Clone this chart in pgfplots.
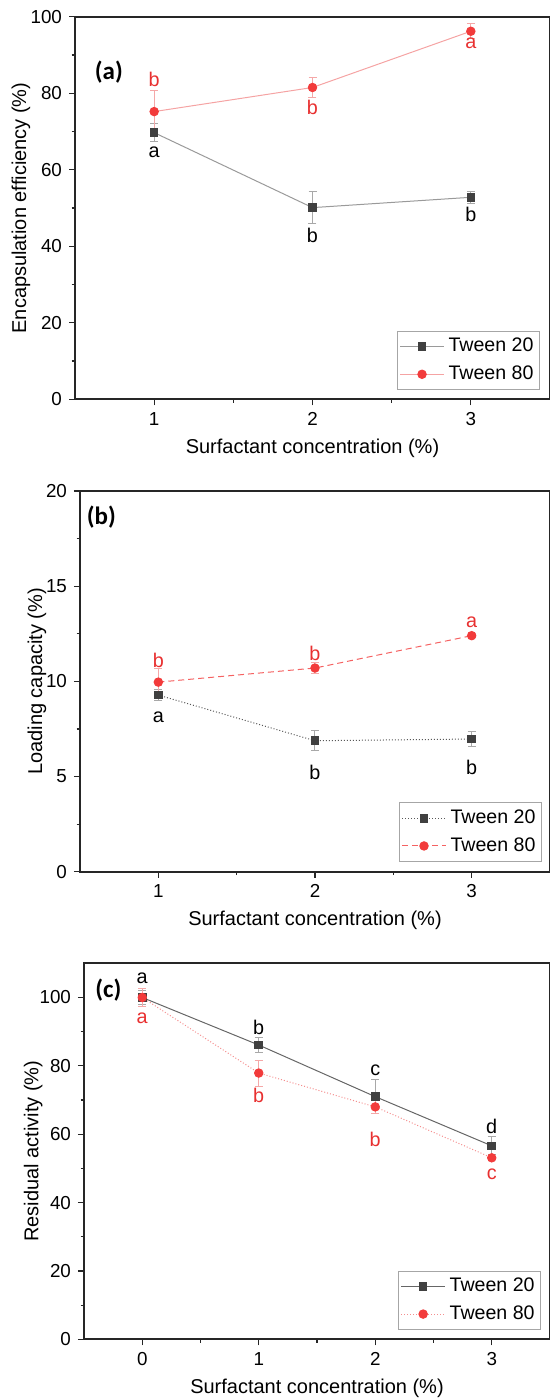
\documentclass[border=0pt]{standalone}
\usepackage{pgfplots}
\pgfplotsset{compat=1.18}
\usepackage{fontspec}
\setmainfont{Liberation Sans}
\newfontfamily\calibri{Carlito}

\definecolor{tmark}{HTML}{404040}
\definecolor{tline}{HTML}{9A9A9A}
\definecolor{terr}{HTML}{A8A8A8}
\definecolor{rmark}{HTML}{F23B3B}
\definecolor{rline}{HTML}{F5A3A3}
\definecolor{rerr}{HTML}{F5A8A8}
\definecolor{rtext}{HTML}{E83030}

\pgfplotsset{
  panel/.style={
    scale only axis, anchor=south west,
    axis line style={line width=0.85pt, black!85},
    tick align=outside, xtick pos=left, ytick pos=left,
    major tick length=3pt, minor tick length=1.7pt,
    every tick/.style={line width=0.6pt, black!85},
    minor tick num=1,
    tick label style={font=\fontsize{9.4}{11}\selectfont},
    /pgf/number format/assume math mode=true,
    label style={font=\fontsize{9.9}{12}\selectfont},
    every axis x label/.style={at={(axis description cs:0.5,0)}, anchor=center, yshift=-24.5pt},
    legend style={font=\fontsize{9.8}{12}\selectfont, anchor=south east, draw=black!35,
      line width=0.5pt, inner xsep=1pt, inner ysep=1.5pt, cells={anchor=west}, row sep=1.5pt},
    legend image code/.code={\draw[mark repeat=2,mark phase=2,#1] plot coordinates {(0pt,0pt) (11pt,0pt) (22pt,0pt)};},
    xlabel={Surfactant concentration (\%)},
  },
  sq/.style={mark=square*, mark options={solid, fill=tmark, draw=tmark, mark size=1.9pt}},
  ci/.style={mark=*, mark options={solid, fill=rmark, draw=rmark, mark size=2.1pt}},
  ebt/.style={error bars/.cd, y dir=both, y explicit,
    error bar style={terr, line width=0.5pt, solid},
    error mark options={rotate=90, terr, mark size=2pt, line width=0.5pt, solid}},
  ebr/.style={error bars/.cd, y dir=both, y explicit,
    error bar style={rerr, line width=0.5pt, solid},
    error mark options={rotate=90, rerr, mark size=2pt, line width=0.5pt, solid}},
}

\begin{document}
\begin{tikzpicture}
\useasboundingbox (0,0) rectangle (275pt,-699pt);

% (a) encapsulation efficiency
\begin{axis}[panel, at={(37.5pt,-199.65pt)}, width=237.5pt, height=191.3pt,
  xmin=0.5, xmax=3.5, ymin=0, ymax=100,
  xtick={1,2,3}, ytick={0,20,...,100},
  ylabel={Encapsulation efficiency (\%)},
  every axis y label/.style={at={(axis description cs:-0.114,0.5)}, rotate=90, anchor=center},
  legend style={at={(axis description cs:0.979,0.024)}}]
\addplot[tline, line width=0.5pt, sq, ebt] coordinates {
  (1,69.7) +- (0,2.4)
  (2,50.1) +- (0,4.2)
  (3,52.8) +- (0,1.5)
};
\addplot[rline, line width=0.5pt, ci, ebr] coordinates {
  (1,75.2) +- (0,5.6)
  (2,81.5) +- (0,2.5)
  (3,96.2) +- (0,2.0)
};
\legend{Tween 20, Tween 80}
\node[font=\calibri\bfseries\fontsize{12.5}{14}\selectfont] at (axis cs:0.714,85.6) {(a)};
\begin{scope}[font=\fontsize{9.9}{12}\selectfont]
\node[rtext] at (axis cs:1,83.5) {b};
\node[rtext] at (axis cs:2,76.3) {b};
\node[rtext] at (axis cs:3,93.0) {a};
\node at (axis cs:1,64.5) {a};
\node at (axis cs:2,42.9) {b};
\node at (axis cs:3,48.3) {b};
\end{scope}
\end{axis}

% (b) loading capacity
\begin{axis}[panel, at={(40pt,-435.85pt)}, width=235pt, height=190.35pt,
  xmin=0.5, xmax=3.5, ymin=0, ymax=20,
  xtick={1,2,3}, ytick={0,5,...,20},
  ylabel={Loading capacity (\%)},
  every axis y label/.style={at={(axis description cs:-0.0915,0.5)}, rotate=90, anchor=center},
  legend style={at={(axis description cs:0.983,0.026)}}]
\addplot[black!65, line width=0.5pt, densely dotted, sq, ebt] coordinates {
  (1,9.28) +- (0,0.3)
  (2,6.88) +- (0,0.53)
  (3,6.97) +- (0,0.4)
};
\addplot[rmark!80, line width=0.5pt, densely dashed, ci, ebr] coordinates {
  (1,9.96) +- (0,0.7)
  (2,10.70) +- (0,0.3)
  (3,12.40) +- (0,0.1)
};
\legend{Tween 20, Tween 80}
\node[font=\calibri\bfseries\fontsize{12.5}{14}\selectfont] at (axis cs:0.636,18.65) {(b)};
\begin{scope}[font=\fontsize{9.9}{12}\selectfont]
\node[rtext] at (axis cs:1,11.09) {b};
\node[rtext] at (axis cs:2,11.47) {b};
\node[rtext] at (axis cs:3,13.13) {a};
\node at (axis cs:1,8.1) {a};
\node at (axis cs:2,5.2) {b};
\node at (axis cs:3,5.46) {b};
\end{scope}
\end{axis}

% (c) residual activity
\begin{axis}[panel, at={(42pt,-669.65pt)}, width=233pt, height=188pt,
  xmin=-0.5, xmax=3.5, ymin=0, ymax=110,
  xtick={0,1,2,3}, ytick={0,20,...,100},
  ylabel={Residual activity (\%)},
  every axis y label/.style={at={(axis description cs:-0.109,0.5)}, rotate=90, anchor=center},
  legend style={at={(axis description cs:0.981,0.025)}}]
\addplot[black!60, line width=0.5pt, sq, ebt] coordinates {
  (0,100) +- (0,2.0)
  (1,86.1) +- (0,2.2)
  (2,71.0) +- (0,5.0)
  (3,56.6) +- (0,2.6)
};
\addplot[rline!80!rmark, line width=0.5pt, densely dotted, ci, ebr] coordinates {
  (0,100) +- (0,2.5)
  (1,77.9) +- (0,3.8)
  (2,68.0) +- (0,2.0)
  (3,53.1) +- (0,0.5)
};
\legend{Tween 20, Tween 80}
\node[font=\calibri\bfseries\fontsize{12.5}{14}\selectfont] at (axis cs:-0.29,102.2) {(c)};
\begin{scope}[font=\fontsize{9.9}{12}\selectfont]
\node at (axis cs:0,105.6) {a};
\node at (axis cs:1,91.2) {b};
\node at (axis cs:2,78.8) {c};
\node at (axis cs:3,62.4) {d};
\node[rtext] at (axis cs:0,94.0) {a};
\node[rtext] at (axis cs:1,71.4) {b};
\node[rtext] at (axis cs:2,58.4) {b};
\node[rtext] at (axis cs:3,48.3) {c};
\end{scope}
\end{axis}
\end{tikzpicture}
\end{document}
